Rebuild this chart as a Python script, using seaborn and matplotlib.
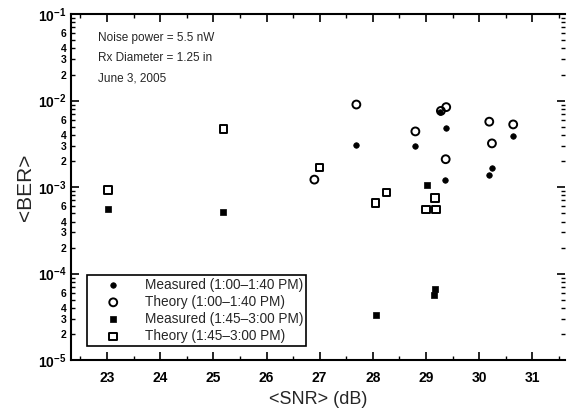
import numpy as np
import pandas as pd
import matplotlib
matplotlib.use("Agg")
import matplotlib.pyplot as plt
import matplotlib.ticker as mticker
import seaborn as sns

# Measured / theory, 1:00-1:40 PM
snr_meas_a = [27.69, 28.80, 29.38, 30.64, 30.24, 30.19, 29.36, 29.27]
ber_meas_a = [3.1e-3, 3.0e-3, 4.8e-3, 3.9e-3, 1.67e-3, 1.37e-3, 1.22e-3, 7.4e-3]
snr_theo_a = [27.69, 29.38, 29.28, 28.80, 30.19, 30.64, 30.24, 29.37, 26.90]
ber_theo_a = [9.0e-3, 8.4e-3, 7.6e-3, 4.4e-3, 5.7e-3, 5.3e-3, 3.2e-3, 2.1e-3, 1.22e-3]

# Measured / theory, 1:45-3:00 PM
snr_meas_b = [23.02, 25.19, 29.01, 28.05, 29.17, 29.15]
ber_meas_b = [5.6e-4, 5.2e-4, 1.07e-3, 3.3e-5, 6.6e-5, 5.6e-5]
snr_theo_b = [23.02, 25.19, 27.00, 28.26, 28.05, 29.17, 29.00, 29.19]
ber_theo_b = [9.3e-4, 4.7e-3, 1.69e-3, 8.7e-4, 6.5e-4, 7.5e-4, 5.5e-4, 5.5e-4]

labels = ["Measured (1:00\u20131:40 PM)", "Theory (1:00\u20131:40 PM)",
          "Measured (1:45\u20133:00 PM)", "Theory (1:45\u20133:00 PM)"]
notes = ["Noise power = 5.5 nW", "Rx Diameter = 1.25 in", "June 3, 2005"]

sns.set_style("ticks")
plt.rcParams['font.family'] = ['Liberation Sans', 'DejaVu Sans']

fig = plt.figure(figsize=(5.67, 4.13), dpi=100)
ax = fig.add_axes([0.125, 0.128, 0.872, 0.838])

sns.scatterplot(x=snr_meas_a, y=ber_meas_a, marker='o', s=16, color='black',
                edgecolor='black', linewidth=0.5, label=labels[0], ax=ax)
sns.scatterplot(x=snr_theo_a, y=ber_theo_a, marker='o', s=32, facecolor='none',
                edgecolor='black', linewidth=1.4, label=labels[1], ax=ax)
sns.scatterplot(x=snr_meas_b, y=ber_meas_b, marker='s', s=20, color='black',
                edgecolor='black', linewidth=0.5, label=labels[2], ax=ax)
sns.scatterplot(x=snr_theo_b, y=ber_theo_b, marker='s', s=30, facecolor='none',
                edgecolor='black', linewidth=1.4, label=labels[3], ax=ax)

ax.set_yscale('log')
ax.set_xlim(22.32, 31.62)
ax.set_ylim(1e-5, 1e-1)

ax.xaxis.set_major_locator(mticker.MultipleLocator(1))
ax.xaxis.set_minor_locator(mticker.MultipleLocator(0.5))
ax.yaxis.set_major_locator(mticker.LogLocator(base=10, numticks=10))
ax.yaxis.set_minor_locator(mticker.LogLocator(base=10, subs=np.arange(2, 10), numticks=20))

def minor_fmt(v, pos):
    m = int(round(v / 10 ** np.floor(np.log10(v) + 1e-9)))
    return str(m) if m in (2, 3, 4, 6) else ""

ax.yaxis.set_minor_formatter(mticker.FuncFormatter(minor_fmt))
ax.tick_params(axis='both', which='both', direction='in', top=True, right=True,
               colors='black')
ax.tick_params(axis='x', which='major', length=6, width=1.2, labelsize=10, pad=8)
ax.tick_params(axis='x', which='minor', length=3, width=1.0)
ax.tick_params(axis='y', which='major', length=6, width=1.2, labelsize=10, pad=3)
ax.tick_params(axis='y', which='minor', length=3, width=1.0, labelsize=7.5, pad=3)
for t in ax.get_xticklabels() + ax.get_yticklabels(which='both'):
    t.set_fontweight('bold')

for side in ['left', 'bottom', 'top']:
    ax.spines[side].set_linewidth(1.5)
    ax.spines[side].set_color('black')
ax.spines['right'].set_visible(False)

ax.set_xlabel('<SNR> (dB)', fontsize=13, labelpad=4)
ax.set_ylabel('<BER>', fontsize=15, labelpad=2)

for i, txt in enumerate(notes):
    ax.text(0.055, 0.93 - i * 0.058, txt, transform=ax.transAxes, fontsize=8.5,
            va='center', ha='left')

leg = ax.legend(loc='lower left', bbox_to_anchor=(0.032, 0.04), fontsize=9.8,
                frameon=True, fancybox=False, framealpha=1, edgecolor='black',
                handletextpad=0.6, borderpad=0.25, labelspacing=0.22,
                handlelength=3.4, borderaxespad=0)
leg.get_frame().set_linewidth(1.2)

fig.savefig('out.png', dpi=100)
